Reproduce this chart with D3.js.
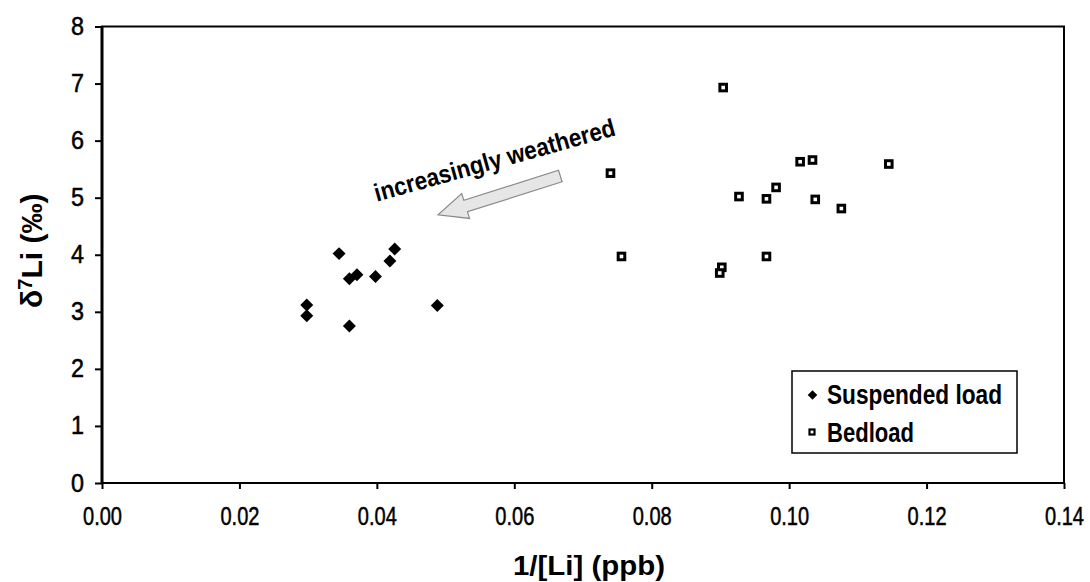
<!DOCTYPE html>
<html>
<head>
<meta charset="utf-8">
<script src="https://cdn.jsdelivr.net/npm/d3@7"></script>
<style>
    body { margin: 0; background: #fff; }
    svg text { font-family: "Liberation Sans Narrow", "Arial Narrow", "Liberation Sans", Arial, sans-serif; fill: #000; }
    .axis path.domain { display: none; }
    .axis line { stroke: #000; stroke-width: 2px; }
    .axis text { stroke: #000; stroke-width: 0.5px; }
</style>
</head>
<body>
<div id="chart"></div>
<script>

// Suspended load: 1/[Li] (ppb) and d7Li (permil)
var suspX = [0.0345, 0.0426, 0.0419, 0.0371, 0.0360, 0.0398, 0.0298, 0.0298, 0.0360, 0.0488];
var suspY = [4.02, 4.10, 3.89, 3.65, 3.58, 3.62, 3.12, 2.93, 2.75, 3.11];

// Bedload
var bedX = [0.0904, 0.0740, 0.0756, 0.1016, 0.1034, 0.1145, 0.0981, 0.0927, 0.0967, 0.1038, 0.1076, 0.0967, 0.0902, 0.0899];
var bedY = [6.93, 5.43, 3.97, 5.63, 5.66, 5.59, 5.18, 5.02, 4.98, 4.97, 4.81, 3.97, 3.78, 3.68];

var xTicks = [0, 0.02, 0.04, 0.06, 0.08, 0.10, 0.12, 0.14];
var yTicks = [0, 1, 2, 3, 4, 5, 6, 7, 8];

var seriesNames = ["Suspended load", "Bedload"];

// annotation arrow, in data units: tail -> tip
var arrowTail = [0.0667, 5.38];
var arrowTip = [0.0489, 4.70];
var noteAt = [0.0400, 4.93];
var noteText = "increasingly weathered";


Scatter = function(_parentElement){
    this.parentElement = _parentElement;
    this.susp = suspX.map(function(d, i) { return {x: d, y: suspY[i]}; });
    this.bed = bedX.map(function(d, i) { return {x: d, y: bedY[i]}; });

    this.initVis();
}


/*
 * Initialize visualization (static content, e.g. SVG area or axes)
 */

Scatter.prototype.initVis = function(){
    var vis = this;

    vis.margin = {top: 26.5, bottom: 99, left: 102, right: 26};
    vis.width = 1090 - vis.margin.left - vis.margin.right;
    vis.height = 582 - vis.margin.top - vis.margin.bottom;

    vis.svg = d3.select("#" + vis.parentElement).append("svg")
        .attr("width", 1090)
        .attr("height", 582)
        .append("g")
        .attr("transform", "translate(" + vis.margin.left + "," + vis.margin.top + ")");

    // Scales and axes
    vis.x = d3.scaleLinear()
        .domain([0, 0.14])
        .range([0, vis.width]);

    vis.y = d3.scaleLinear()
        .domain([0, 8])
        .range([vis.height, 0]);

    vis.xAxis = d3.axisBottom()
        .scale(vis.x)
        .tickValues(xTicks)
        .tickFormat(d3.format(".2f"))
        .tickSize(6)
        .tickPadding(18);

    vis.yAxis = d3.axisLeft()
        .scale(vis.y)
        .tickValues(yTicks)
        .tickFormat(d3.format("d"))
        .tickSize(7)
        .tickPadding(11);

    vis.svg.append("g")
        .attr("class", "x-axis axis")
        .attr("transform", "translate(0," + vis.height + ")")
        .call(vis.xAxis)
        .selectAll("text")
        .style("font-size", "25px")
        .attr("textLength", 39)
        .attr("lengthAdjust", "spacingAndGlyphs");

    vis.svg.append("g")
        .attr("class", "y-axis axis")
        .call(vis.yAxis)
        .selectAll("text")
        .style("font-size", "25px")
        .attr("textLength", 13)
        .attr("lengthAdjust", "spacingAndGlyphs");

    // plot frame
    vis.svg.append("rect")
        .attr("width", vis.width)
        .attr("height", vis.height)
        .attr("fill", "none")
        .attr("stroke", "#000")
        .attr("stroke-width", 2);

    vis.svg.append("line")
        .attr("y1", 0)
        .attr("y2", vis.height)
        .attr("stroke", "#000")
        .attr("stroke-width", 3);

    // axis titles
    vis.svg.append("text")
        .attr("x", 487)
        .attr("y", 548)
        .attr("text-anchor", "middle")
        .style("font-size", "28px")
        .style("font-weight", "bold")
        .attr("textLength", 152)
        .attr("lengthAdjust", "spacingAndGlyphs")
        .text("1/[Li] (ppb)");

    var yt = vis.svg.append("text")
        .attr("transform", "translate(-60," + (vis.height / 2 - 4) + ") rotate(-90)")
        .attr("text-anchor", "middle")
        .style("font-size", "30px")
        .style("font-weight", "bold");
    yt.append("tspan").text("\u03b4");
    yt.append("tspan").attr("dy", -10).style("font-size", "20px").text("7");
    yt.append("tspan").attr("dy", 10).text("Li (\u2030)");

    vis.wrangleData();
}


/*
 * Data wrangling
 */

Scatter.prototype.wrangleData = function(){
    var vis = this;

    vis.updateVis();
}


/*
 * The drawing function
 */

Scatter.prototype.updateVis = function(){
    var vis = this;

    vis.diamond = d3.symbol().type(d3.symbolSquare).size(84);

    // annotation arrow
    var p0 = [vis.x(arrowTail[0]), vis.y(arrowTail[1])];
    var p1 = [vis.x(arrowTip[0]), vis.y(arrowTip[1])];
    var ang = Math.atan2(p1[1] - p0[1], p1[0] - p0[0]) * 180 / Math.PI;
    var len = Math.hypot(p1[0] - p0[0], p1[1] - p0[1]);
    var shaft = 6, head = 13, headLen = 29;
    var pts = [[0, -shaft], [len - headLen, -shaft], [len - headLen, -head], [len, 0],
               [len - headLen, head], [len - headLen, shaft], [0, shaft]];

    vis.svg.append("path")
        .attr("d", d3.line()(pts) + "Z")
        .attr("transform", "translate(" + p0[0] + "," + p0[1] + ") rotate(" + ang + ")")
        .attr("fill", "#e6e6e6")
        .attr("stroke", "#8a8a8a")
        .attr("stroke-width", 1.2);

    vis.svg.append("text")
        .attr("transform", "translate(" + vis.x(noteAt[0]) + "," + vis.y(noteAt[1]) + ") rotate(-15.5)")
        .style("font-size", "25px")
        .style("font-weight", "bold")
        .attr("textLength", 249)
        .attr("lengthAdjust", "spacingAndGlyphs")
        .text(noteText);

    // suspended load: filled diamonds
    vis.svg.selectAll("path.susp")
        .data(vis.susp)
        .enter().append("path")
        .attr("class", "susp")
        .attr("d", vis.diamond)
        .attr("transform", function(d) { return "translate(" + vis.x(d.x) + "," + vis.y(d.y) + ") rotate(45)"; })
        .attr("fill", "#000");

    // bedload: open squares
    vis.svg.selectAll("rect.bed")
        .data(vis.bed)
        .enter().append("rect")
        .attr("class", "bed")
        .attr("x", function(d) { return vis.x(d.x) - 3.3; })
        .attr("y", function(d) { return vis.y(d.y) - 3.3; })
        .attr("width", 6.6)
        .attr("height", 6.6)
        .attr("fill", "#fff")
        .attr("stroke", "#000")
        .attr("stroke-width", 3);

    // legend
    var lg = vis.svg.append("g")
        .attr("transform", "translate(690,344.5)");

    lg.append("rect")
        .attr("width", 225)
        .attr("height", 82)
        .attr("fill", "#fff")
        .attr("stroke", "#000")
        .attr("stroke-width", 1.5);

    lg.append("path")
        .attr("d", d3.symbol().type(d3.symbolSquare).size(46))
        .attr("transform", "translate(20.5,24) rotate(45)")
        .attr("fill", "#000");

    lg.append("rect")
        .attr("x", 17.5)
        .attr("y", 58.5)
        .attr("width", 5)
        .attr("height", 5)
        .attr("fill", "#fff")
        .attr("stroke", "#000")
        .attr("stroke-width", 2.2);

    lg.selectAll("text.leg")
        .data(seriesNames)
        .enter().append("text")
        .attr("class", "leg")
        .attr("x", 35)
        .attr("y", function(d, i) { return 33 + i * 38; })
        .style("font-size", "27px")
        .style("font-weight", "bold")
        .attr("textLength", function(d, i) { return i == 0 ? 175 : 87; })
        .attr("lengthAdjust", "spacingAndGlyphs")
        .text(function(d) { return d; });
}


var chart = new Scatter("chart");

</script>
</body>
</html>
